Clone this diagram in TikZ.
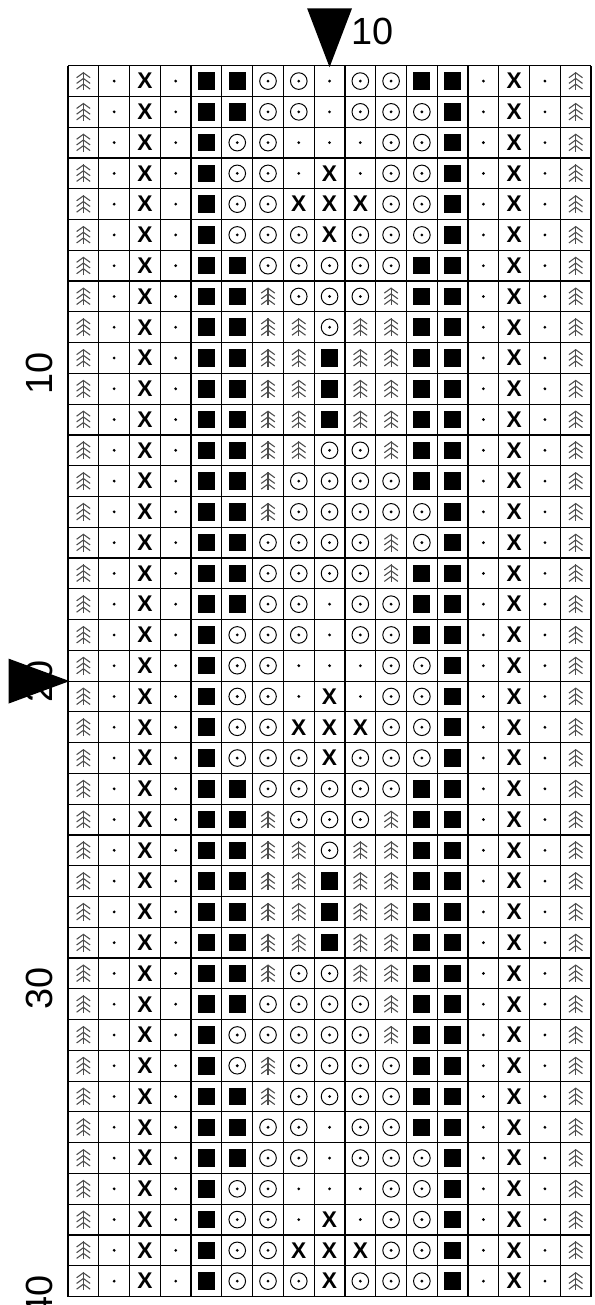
\documentclass[tikz,border=0pt]{standalone}
\usepackage{fontspec}
\setmainfont{Liberation Sans}

\tikzset{
  pics/knitS/.style={code={\fill (-0.28,-0.285) rectangle (0.28,0.285);}},
  pics/knitO/.style={code={
    \draw[line width=0.9pt] (0,0) circle (0.27);
    \fill (0,0) circle (0.05);
  }},
  pics/knitD/.style={code={\fill (0,0) circle (0.05);}},
  pics/knitX/.style={code={\node[inner sep=0pt, font=\fontsize{21}{21}\selectfont\bfseries] (-x) {X};}},
  pics/knitT/.style={code={
    \draw[black!70, line width=1pt] (0,0.29) -- (0,-0.29);
    \foreach \t in {0.27,0.085,-0.1} {
      \draw[black!70, line width=1pt] (-0.22,\t-0.16) -- (0,\t) -- (0.22,\t-0.16);
    }
  }},
}

\begin{document}
\begin{tikzpicture}[
  gridline/.style={line width=1.1pt},
  numlabel/.style={inner sep=0pt, font=\fontsize{35}{35}\selectfont},
]
  \useasboundingbox (-2.21,2.135) rectangle (17.095,-40.276);

  \foreach \row [count=\r] in {
    {S,S,O,O,D,O,O,S,S}, {S,S,O,O,D,O,O,O,S}, {S,O,O,D,D,D,O,O,S},
    {S,O,O,D,X,D,O,O,S}, {S,O,O,X,X,X,O,O,S}, {S,O,O,O,X,O,O,O,S},
    {S,S,O,O,O,O,O,S,S}, {S,S,T,O,O,O,T,S,S}, {S,S,T,T,O,T,T,S,S},
    {S,S,T,T,S,T,T,S,S}, {S,S,T,T,S,T,T,S,S}, {S,S,T,T,S,T,T,S,S},
    {S,S,T,T,O,O,T,S,S}, {S,S,T,O,O,O,O,S,S}, {S,S,T,O,O,O,O,O,S},
    {S,S,O,O,O,O,T,O,S}, {S,S,O,O,O,O,T,S,S}, {S,S,O,O,D,O,O,S,S},
    {S,O,O,O,D,O,O,S,S}, {S,O,O,D,D,D,O,O,S}, {S,O,O,D,X,D,O,O,S},
    {S,O,O,X,X,X,O,O,S}, {S,O,O,O,X,O,O,O,S}, {S,S,O,O,O,O,O,S,S},
    {S,S,T,O,O,O,T,S,S}, {S,S,T,T,O,T,T,S,S}, {S,S,T,T,S,T,T,S,S},
    {S,S,T,T,S,T,T,S,S}, {S,S,T,T,S,T,T,S,S}, {S,S,T,O,O,T,T,S,S},
    {S,S,O,O,O,O,T,S,S}, {S,O,O,O,O,O,T,S,S}, {S,O,T,O,O,O,O,S,S},
    {S,S,T,O,O,O,O,S,S}, {S,S,O,O,D,O,O,S,S}, {S,S,O,O,D,O,O,O,S},
    {S,O,O,D,D,D,O,O,S}, {S,O,O,D,X,D,O,O,S}, {S,O,O,X,X,X,O,O,S},
    {S,O,O,O,X,O,O,O,S}} {
    \foreach \s [count=\c] in {T,D,X,D} {
      \pic (p\r-\c) at (\c-0.5,0.5-\r) {knit\s};
    }
    \foreach \s [count=\c from 5] in \row {
      \pic (p\r-\c) at (\c-0.5,0.5-\r) {knit\s};
    }
    \foreach \s [count=\c from 14] in {D,X,D,T} {
      \pic (p\r-\c) at (\c-0.5,0.5-\r) {knit\s};
    }
  }

  \draw[gridline] (0,0) grid (17,-40);

  % markers
  \fill (7.77,1.865) -- (9.23,1.865) -- (8.5,-0.05) -- cycle;
  \node[numlabel, anchor=base west] (top10) at (9.2,0.673) {10};

  \foreach \n in {10,20,30,40} {
    \node[numlabel, rotate=90] (row\n) at (-0.93,-\n) {\n};
  }
  \fill (-1.93,-19.27) -- (-1.93,-20.73) -- (0.05,-20) -- cycle;
\end{tikzpicture}
\end{document}
